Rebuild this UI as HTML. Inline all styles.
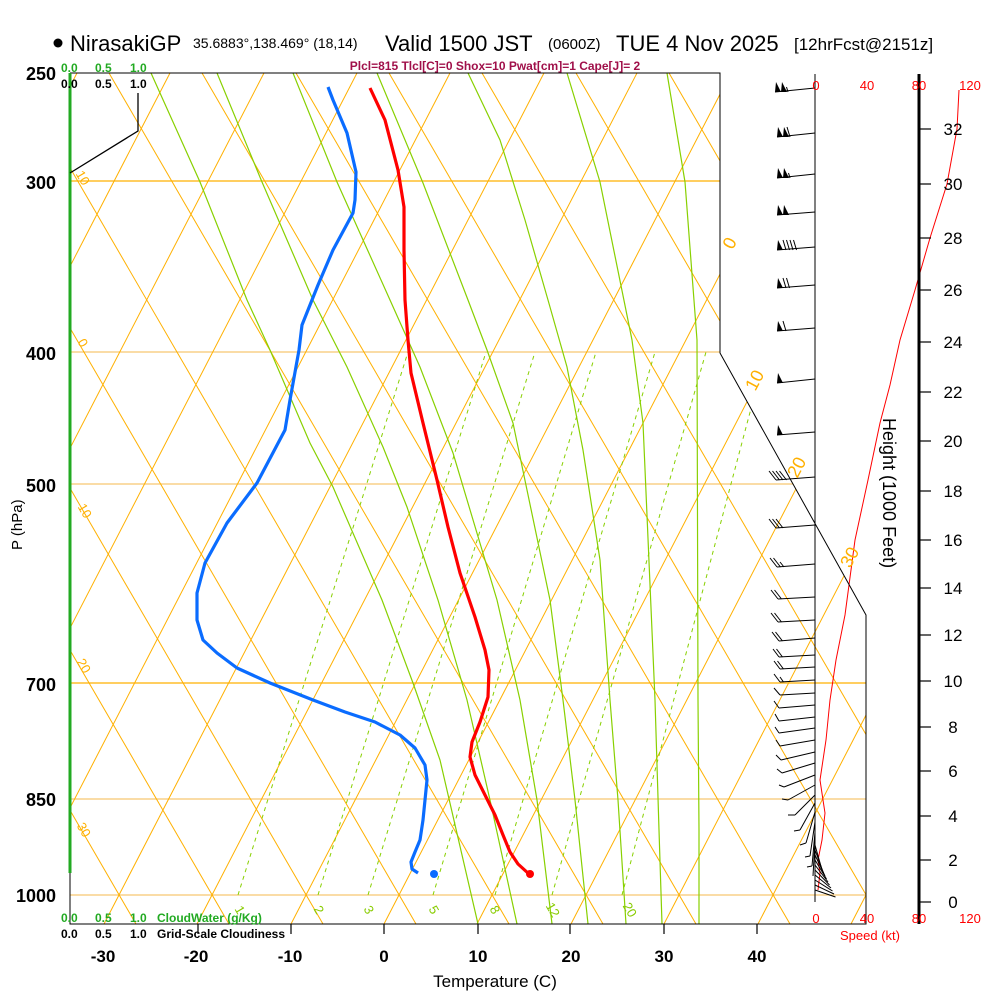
<!DOCTYPE html>
<html><head><meta charset="utf-8"><style>
html,body{margin:0;padding:0;background:#fff;}
svg{display:block;font-family:"Liberation Sans",Arial,sans-serif;}
</style></head><body>
<svg width="1000" height="1000" viewBox="0 0 1000 1000" xmlns="http://www.w3.org/2000/svg">
<defs><clipPath id="cp"><path d="M70,73 L720,73 L720,353 L866,615 L866,924 L70,924 Z"/></clipPath></defs>
<g clip-path="url(#cp)">
<g stroke-width="1.2">
<line x1="70" y1="181" x2="870" y2="181" stroke="#ffb000"/>
<line x1="70" y1="683" x2="870" y2="683" stroke="#ffb000"/>
<line x1="70" y1="352" x2="870" y2="352" stroke="#f8c870"/>
<line x1="70" y1="484" x2="870" y2="484" stroke="#f8c870"/>
<line x1="70" y1="799" x2="870" y2="799" stroke="#f8c870"/>
<line x1="70" y1="895" x2="870" y2="895" stroke="#f8c870"/>
</g>
<g stroke="#ffb000" stroke-width="1">
<line x1="-363" y1="924" x2="77" y2="73"/>
<line x1="-270" y1="924" x2="170" y2="73"/>
<line x1="-176" y1="924" x2="264" y2="73"/>
<line x1="-83" y1="924" x2="357" y2="73"/>
<line x1="10" y1="924" x2="450" y2="73"/>
<line x1="104" y1="924" x2="544" y2="73"/>
<line x1="197" y1="924" x2="637" y2="73"/>
<line x1="291" y1="924" x2="731" y2="73"/>
<line x1="384" y1="924" x2="824" y2="73"/>
<line x1="477" y1="924" x2="917" y2="73"/>
<line x1="571" y1="924" x2="1011" y2="73"/>
<line x1="664" y1="924" x2="1104" y2="73"/>
<line x1="758" y1="924" x2="1198" y2="73"/>
<line x1="851" y1="924" x2="1291" y2="73"/>
<line x1="136" y1="924" x2="-358" y2="73"/>
<line x1="229" y1="924" x2="-265" y2="73"/>
<line x1="323" y1="924" x2="-171" y2="73"/>
<line x1="416" y1="924" x2="-78" y2="73"/>
<line x1="509" y1="924" x2="15" y2="73"/>
<line x1="603" y1="924" x2="109" y2="73"/>
<line x1="696" y1="924" x2="202" y2="73"/>
<line x1="790" y1="924" x2="296" y2="73"/>
<line x1="883" y1="924" x2="389" y2="73"/>
<line x1="976" y1="924" x2="482" y2="73"/>
<line x1="1070" y1="924" x2="576" y2="73"/>
<line x1="1163" y1="924" x2="669" y2="73"/>
<line x1="1257" y1="924" x2="763" y2="73"/>
<line x1="1350" y1="924" x2="856" y2="73"/>
</g>
<g fill="none" stroke="#88d000" stroke-width="1.2">
<polyline points="151,73 200,182 247,300 270,350 310,443 333,487 382,600 413,683 440,760 478,924"/>
<polyline points="217,73 262,182 313,300 347,367 383,447 407,507 438,600 467,700 490,800 517,924"/>
<polyline points="293,73 337,182 390,300 420,367 453,453 497,600 520,700 537,800 552,924"/>
<polyline points="377,73 423,183 468,300 487,350 513,423 550,600 563,700 575,800 588,924"/>
<polyline points="468,73 500,140 525,220 548,300 567,367 583,450 600,560 610,700 618,800 626,924"/>
<polyline points="567,73 600,182 632,340 643,423 655,700 659,830 662,924"/>
<polyline points="667,73 685,182 697,340 698,700 699,830 699,924"/>
</g>
<g fill="none" stroke="#88d000" stroke-width="1" stroke-dasharray="4,4">
<line x1="238" y1="895" x2="408" y2="352"/>
<line x1="318" y1="895" x2="486" y2="352"/>
<line x1="368" y1="895" x2="535" y2="352"/>
<line x1="433" y1="895" x2="596" y2="352"/>
<line x1="495" y1="895" x2="655" y2="352"/>
<line x1="552" y1="895" x2="706" y2="352"/>
<line x1="622" y1="895" x2="766" y2="352"/>
</g>
</g>
<!-- profiles -->
<polyline points="328,87 333,100 347,133 356,172 355,200 353,213 333,250 318,285 302,325 299,350 290,400 285,430 257,483 227,523 205,563 197,593 197,620 203,640 217,653 237,668 270,683 313,700 345,712 375,722 400,735 415,748 425,765 427,780 425,800 423,820 420,840 415,852 411,862 412,869 418,873" fill="none" stroke="#0a6cff" stroke-width="3.2" stroke-linejoin="round"/>
<polyline points="370,88 385,120 398,170 404,207 404,250 405,300 408,340 411,373 423,423 437,480 448,527 460,573 475,617 485,650 489,670 488,697 480,722 472,742 470,757 475,775 485,795 495,815 503,835 510,852 518,864 529,874" fill="none" stroke="#ff0000" stroke-width="3.2" stroke-linejoin="round"/>
<circle cx="434" cy="874" r="4" fill="#0a6cff"/>
<circle cx="530" cy="874" r="4" fill="#ff0000"/>
<polyline points="959,90 957,129 947,184 930,238 915,290 900,340 890,385 880,423 868,480 855,540 845,615 836,660 830,700 826,740 820,780 823,800 825,813 822,840 818,860 820,873 818,890" fill="none" stroke="#ff0000" stroke-width="1"/>
<!-- frame -->
<path d="M70,73 L720,73 L720,353 L866,615 L866,924 L70,924 L70,873" fill="none" stroke="#000" stroke-width="1"/>
<line x1="70" y1="73" x2="70" y2="873" stroke="#22aa22" stroke-width="3"/>
<line x1="70" y1="873" x2="70" y2="924" stroke="#000" stroke-width="1"/>
<polyline points="70,173 138,131 138,93" fill="none" stroke="#000" stroke-width="1.3"/>
<g stroke="#000" stroke-width="1.2">
<line x1="198" y1="924" x2="198" y2="934"/><line x1="291" y1="924" x2="291" y2="934"/><line x1="384" y1="924" x2="384" y2="934"/><line x1="478" y1="924" x2="478" y2="934"/><line x1="570" y1="924" x2="570" y2="934"/><line x1="664" y1="924" x2="664" y2="934"/><line x1="757" y1="924" x2="757" y2="934"/>
</g>
<line x1="815" y1="74" x2="815" y2="902" stroke="#000" stroke-width="1"/>
<!-- barbs -->
<g stroke="#000" stroke-width="1" fill="none">
<line x1="815" y1="88" x2="775" y2="92"/><line x1="815" y1="133" x2="777" y2="137"/><line x1="815" y1="174" x2="777" y2="178"/><line x1="815" y1="212" x2="777" y2="215"/><line x1="815" y1="247" x2="777" y2="250"/><line x1="815" y1="285" x2="777" y2="288"/><line x1="815" y1="328" x2="777" y2="331"/><line x1="815" y1="379" x2="777" y2="383"/><line x1="815" y1="432" x2="777" y2="435"/>
<line x1="788" y1="92" x2="786.5" y2="87"/>
<line x1="790" y1="137" x2="787" y2="127"/>
<line x1="790" y1="178" x2="788.5" y2="173"/>
<line x1="786" y1="250" x2="783" y2="240"/><line x1="789.5" y1="250" x2="786.5" y2="240"/><line x1="793" y1="250" x2="790" y2="240"/><line x1="796.5" y1="250" x2="793.5" y2="240"/>
<line x1="786" y1="288" x2="783" y2="278"/><line x1="789.5" y1="288" x2="786.5" y2="278"/>
<line x1="786" y1="331" x2="783" y2="321"/>
<line x1="815" y1="477" x2="776" y2="480"/><line x1="776" y1="480" x2="769" y2="471"/><line x1="779.5" y1="480" x2="772.5" y2="471"/><line x1="783" y1="480" x2="776" y2="471"/><line x1="786.5" y1="480" x2="779.5" y2="471"/>
<line x1="815" y1="525" x2="776" y2="528"/><line x1="776" y1="528" x2="769" y2="519"/><line x1="779.5" y1="528" x2="772.5" y2="519"/><line x1="783" y1="528" x2="776" y2="519"/>
<line x1="815" y1="564" x2="777" y2="567"/><line x1="777" y1="567" x2="770" y2="558"/><line x1="780.5" y1="567" x2="773.5" y2="558"/><line x1="784" y1="567" x2="780" y2="562"/>
<line x1="815" y1="597" x2="778" y2="599"/><line x1="778" y1="599" x2="771" y2="590"/><line x1="781.5" y1="599" x2="774.5" y2="590"/>
<line x1="815" y1="620" x2="778" y2="622"/><line x1="778" y1="622" x2="771" y2="613"/><line x1="781.5" y1="622" x2="774.5" y2="613"/>
<line x1="815" y1="638" x2="779" y2="641"/><line x1="779" y1="641" x2="772" y2="632"/><line x1="782.5" y1="641" x2="775.5" y2="632"/>
<line x1="815" y1="655" x2="779" y2="657"/><line x1="779" y1="657" x2="773" y2="649"/><line x1="782.5" y1="657" x2="776.5" y2="649"/>
<line x1="815" y1="667" x2="780" y2="669"/><line x1="780" y1="669" x2="774" y2="661"/><line x1="783.5" y1="669" x2="777.5" y2="661"/>
<line x1="815" y1="680" x2="780" y2="682"/><line x1="780" y1="682" x2="774" y2="674"/><line x1="783.5" y1="682" x2="780" y2="677"/>
<line x1="815" y1="693" x2="780" y2="695"/><line x1="780" y1="695" x2="774" y2="688"/>
<line x1="815" y1="705" x2="779" y2="708"/><line x1="779" y1="708" x2="774" y2="701"/>
<line x1="815" y1="717" x2="779" y2="721"/><line x1="779" y1="721" x2="775" y2="714"/>
<line x1="815" y1="728" x2="779" y2="733"/><line x1="779" y1="733" x2="775" y2="727"/>
<line x1="815" y1="740" x2="780" y2="746"/><line x1="780" y1="746" x2="776" y2="740"/>
<line x1="815" y1="752" x2="781" y2="760"/><line x1="781" y1="760" x2="776" y2="755"/>
<line x1="815" y1="763" x2="782" y2="773"/><line x1="782" y1="773" x2="777" y2="769"/>
<line x1="815" y1="775" x2="784" y2="787"/><line x1="784" y1="787" x2="779" y2="785"/>
<line x1="815" y1="785" x2="788" y2="800"/><line x1="788" y1="800" x2="782" y2="799"/>
<line x1="815" y1="795" x2="795" y2="815"/><line x1="795" y1="815" x2="788" y2="815"/>
<line x1="815" y1="803" x2="800" y2="830"/><line x1="800" y1="830" x2="794" y2="831"/>
<line x1="815" y1="812" x2="806" y2="843"/><line x1="806" y1="843" x2="800" y2="845"/>
<line x1="815" y1="822" x2="810" y2="856"/><line x1="810" y1="856" x2="805" y2="857"/>
<line x1="815" y1="832" x2="812" y2="866"/><line x1="812" y1="866" x2="807" y2="867"/>
<line x1="815" y1="840" x2="813" y2="876"/>
<line x1="815" y1="845" x2="822" y2="870"/><line x1="815" y1="850" x2="823.5" y2="873"/><line x1="815" y1="855" x2="825" y2="876"/><line x1="815" y1="860" x2="826.5" y2="879"/><line x1="815" y1="865" x2="828" y2="882"/><line x1="815" y1="870" x2="829.5" y2="885"/><line x1="815" y1="875" x2="831" y2="888"/><line x1="815" y1="880" x2="832.5" y2="891"/><line x1="815" y1="885" x2="834" y2="894"/><line x1="815" y1="890" x2="835.5" y2="897"/>
</g>
<g fill="#000">
<path d="M775,92 L781,92 L776,82Z"/><path d="M781,92 L787,92 L782,82Z"/>
<path d="M777,137 L783,137 L778,127Z"/><path d="M783,137 L789,137 L784,127Z"/>
<path d="M777,178 L783,178 L778,168Z"/><path d="M783,178 L789,178 L784,168Z"/>
<path d="M777,215 L783,215 L778,205Z"/><path d="M783,215 L789,215 L784,205Z"/>
<path d="M777,250 L783,250 L778,240Z"/>
<path d="M777,288 L783,288 L778,278Z"/>
<path d="M777,331 L783,331 L778,321Z"/>
<path d="M777,383 L783,383 L778,373Z"/>
<path d="M777,435 L783,435 L778,425Z"/>
</g>
<line x1="919" y1="74" x2="919" y2="924" stroke="#000" stroke-width="3"/>
<g stroke="#000" stroke-width="1.2">
<line x1="919" y1="902" x2="931" y2="902"/><line x1="919" y1="860" x2="931" y2="860"/><line x1="919" y1="816" x2="931" y2="816"/><line x1="919" y1="771" x2="931" y2="771"/><line x1="919" y1="727" x2="931" y2="727"/><line x1="919" y1="681" x2="931" y2="681"/><line x1="919" y1="635" x2="931" y2="635"/><line x1="919" y1="588" x2="931" y2="588"/><line x1="919" y1="540" x2="931" y2="540"/><line x1="919" y1="491" x2="931" y2="491"/><line x1="919" y1="441" x2="931" y2="441"/><line x1="919" y1="392" x2="931" y2="392"/><line x1="919" y1="342" x2="931" y2="342"/><line x1="919" y1="290" x2="931" y2="290"/><line x1="919" y1="238" x2="931" y2="238"/><line x1="919" y1="184" x2="931" y2="184"/><line x1="919" y1="129" x2="931" y2="129"/>
</g>
<g font-size="17" text-anchor="middle" fill="#000">
<text x="953" y="908">0</text><text x="953" y="866">2</text><text x="953" y="822">4</text><text x="953" y="777">6</text><text x="953" y="733">8</text><text x="953" y="687">10</text><text x="953" y="641">12</text><text x="953" y="594">14</text><text x="953" y="546">16</text><text x="953" y="497">18</text><text x="953" y="447">20</text><text x="953" y="398">22</text><text x="953" y="348">24</text><text x="953" y="296">26</text><text x="953" y="244">28</text><text x="953" y="190">30</text><text x="953" y="135">32</text>
</g>
<text x="0" y="0" font-size="18" transform="translate(883,418) rotate(90)">Height (1000 Feet)</text>
<g font-size="13" fill="#ff0000" text-anchor="middle">
<text x="816" y="90">0</text><text x="867" y="90">40</text><text x="919" y="90">80</text><text x="970" y="90">120</text>
<text x="816" y="923">0</text><text x="867" y="923">40</text><text x="919" y="923">80</text><text x="970" y="923">120</text>
<text x="870" y="940">Speed (kt)</text>
</g>
<circle cx="58" cy="43" r="4.5" fill="#000"/>
<text x="70" y="51" font-size="22">NirasakiGP</text>
<text x="193" y="48" font-size="14">35.6883°,138.469° (18,14)</text>
<text x="385" y="51" font-size="22">Valid 1500 JST</text>
<text x="548" y="49" font-size="15">(0600Z)</text>
<text x="616" y="51" font-size="22">TUE 4 Nov 2025</text>
<text x="794" y="50" font-size="17">[12hrFcst@2151z]</text>
<text x="495" y="70" font-size="12" font-weight="bold" fill="#a0104a" text-anchor="middle">Plcl=815 Tlcl[C]=0 Shox=10 Pwat[cm]=1 Cape[J]= 2</text>
<g font-size="12" font-weight="bold">
<text x="61" y="72" fill="#22aa22">0.0</text><text x="95" y="72" fill="#22aa22">0.5</text><text x="130" y="72" fill="#22aa22">1.0</text>
<text x="61" y="88">0.0</text><text x="95" y="88">0.5</text><text x="130" y="88">1.0</text>
<text x="61" y="922" fill="#22aa22">0.0</text><text x="95" y="922" fill="#22aa22">0.5</text><text x="130" y="922" fill="#22aa22">1.0</text><text x="157" y="922" fill="#22aa22">CloudWater (g/Kg)</text>
<text x="61" y="938">0.0</text><text x="95" y="938">0.5</text><text x="130" y="938">1.0</text><text x="157" y="938">Grid-Scale Cloudiness</text>
</g>
<g font-size="18" font-weight="bold" text-anchor="end">
<text x="56" y="80">250</text><text x="56" y="189">300</text><text x="56" y="360">400</text><text x="56" y="492">500</text><text x="56" y="691">700</text><text x="56" y="806">850</text><text x="56" y="902">1000</text>
</g>
<text x="0" y="0" font-size="15" transform="translate(22,550) rotate(-90)">P (hPa)</text>
<g font-size="17" font-weight="bold" text-anchor="middle">
<text x="103" y="962">-30</text><text x="196" y="962">-20</text><text x="290" y="962">-10</text><text x="384" y="962">0</text><text x="478" y="962">10</text><text x="571" y="962">20</text><text x="664" y="962">30</text><text x="757" y="962">40</text>
</g>
<text x="495" y="987" font-size="17" text-anchor="middle">Temperature (C)</text>
<g font-size="18" fill="#ffb000" text-anchor="middle">
<text transform="translate(735,246) rotate(-62)">0</text>
<text transform="translate(760,383) rotate(-62)">10</text>
<text transform="translate(802,470) rotate(-62)">20</text>
<text transform="translate(855,560) rotate(-62)">30</text>
</g>
<g font-size="13" fill="#ffb000" text-anchor="middle">
<text transform="translate(79,180) rotate(60)">10</text>
<text transform="translate(79,345) rotate(60)">0</text>
<text transform="translate(81,513) rotate(60)">10</text>
<text transform="translate(80,668) rotate(60)">20</text>
<text transform="translate(80,832) rotate(60)">30</text>
</g>
<g font-size="13" fill="#88cc00" text-anchor="middle">
<text transform="translate(236,912) rotate(60)">1</text>
<text transform="translate(315,912) rotate(60)">2</text>
<text transform="translate(365,912) rotate(60)">3</text>
<text transform="translate(430,912) rotate(60)">5</text>
<text transform="translate(491,912) rotate(60)">8</text>
<text transform="translate(549,912) rotate(60)">12</text>
<text transform="translate(626,912) rotate(60)">20</text>
</g>
</svg>
</body></html>
